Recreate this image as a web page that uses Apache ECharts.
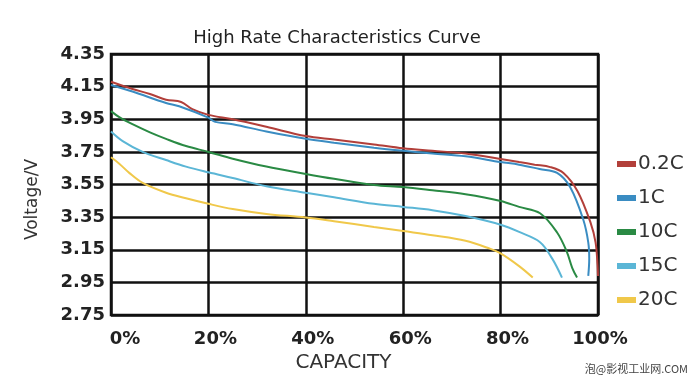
<!DOCTYPE html>
<html>
<head>
<meta charset="utf-8">
<script src="https://cdn.jsdelivr.net/npm/echarts@6/dist/echarts.min.js"></script>
<style>html,body{margin:0;padding:0;background:#fff;}#c{width:690px;height:378px;}</style>
</head>
<body>
<div id="c"></div>
<script>
// Data: [capacity %, voltage V]
const seriesNames = ['0.2C', '1C', '10C', '15C', '20C'];
const capTicks = [0, 20, 40, 60, 80, 100];
const voltTicks = [2.75, 2.95, 3.15, 3.35, 3.55, 3.75, 3.95, 4.15, 4.35];

const rate02C = [[0,4.18],[4.4,4.136],[8,4.105],[11.3,4.07],[14.4,4.056],[16.7,4.012],[20,3.977],[25,3.95],[31.9,3.904],[40,3.847],[45.8,3.826],[54,3.796],[60,3.772],[66,3.757],[72.8,3.74],[80,3.707],[83.8,3.688],[87,3.672],[90.2,3.657],[92.9,3.621],[95.8,3.509],[98.5,3.314],[99.5,3.196],[99.9,3.06],[100,2.99]];
const rate1C = [[0,4.16],[4.4,4.12],[11.3,4.05],[14,4.03],[20,3.96],[21.4,3.934],[25,3.92],[31.9,3.875],[40,3.83],[45.8,3.806],[54,3.776],[60,3.757],[66,3.74],[72.8,3.723],[80,3.688],[83.8,3.672],[88,3.645],[91.6,3.621],[94.3,3.533],[97,3.333],[98,3.196],[98.2,3.096],[98,2.99]];
const rate10C = [[0,4.00],[1.7,3.963],[4.4,3.92],[8,3.87],[11.3,3.83],[15.4,3.786],[20,3.75],[25,3.708],[31.9,3.66],[40,3.615],[45.8,3.585],[54,3.547],[60,3.535],[66,3.515],[72.8,3.49],[80,3.449],[83.8,3.413],[88.1,3.374],[91.6,3.256],[93.6,3.138],[94.7,3.04],[95.7,2.98]];
const rate15C = [[0,3.875],[2.4,3.816],[6.5,3.75],[11.3,3.70],[15.4,3.66],[20,3.625],[25,3.59],[31.9,3.54],[40,3.50],[45.8,3.472],[54,3.432],[60,3.413],[66,3.393],[72.8,3.357],[80,3.304],[83.8,3.26],[88.1,3.197],[90.6,3.096],[92.6,2.98]];
const rate20C = [[0,3.717],[1.7,3.678],[3.8,3.62],[6.5,3.56],[11.3,3.50],[15.4,3.466],[20,3.432],[25,3.40],[31.9,3.37],[40,3.348],[45.8,3.325],[54,3.29],[60,3.265],[66,3.24],[72.8,3.206],[77.8,3.157],[80,3.128],[83.8,3.05],[86.6,2.98]];

const colors = ['#b23f3a', '#3a8cc2', '#2a8a44', '#5bb6d6', '#f0c84a'];
const allData = [rate02C, rate1C, rate10C, rate15C, rate20C];

// y axis offset so ticks start at 0 (a multiple of the interval)
const vMin = voltTicks[0];
const vMax = voltTicks[voltTicks.length - 1];
const vStep = 0.2;

const chart = echarts.init(document.getElementById('c'));
const font = '"DejaVu Sans", "Liberation Sans", Arial, sans-serif';

chart.setOption({
  backgroundColor: '#fff',
  animation: false,
  title: {
    text: 'High Rate Characteristics Curve',
    left: 332, top: 24, textAlign: 'center',
    textStyle: { fontFamily: font, fontSize: 18, fontWeight: 'normal', color: '#222' }
  },
  legend: {
    orient: 'vertical', left: 612, top: 149,
    itemWidth: 19, itemHeight: 6, itemGap: 14,
    icon: 'rect',
    data: seriesNames,
    textStyle: { fontFamily: font, fontSize: 20, color: '#333', padding: [0, 0, 0, -3] }
  },
  grid: {
    left: 111, right: 92, top: 54, bottom: 53,
    show: true, borderColor: '#111', borderWidth: 2.5
  },
  xAxis: {
    type: 'value', min: 0, max: 100, interval: 20,
    name: 'CAPACITY', nameLocation: 'middle', nameGap: 37,
    nameTextStyle: { fontFamily: font, fontSize: 20, color: '#333', padding: [0, 22, 0, 0] },
    axisLine: { show: false },
    axisTick: { show: false },
    splitLine: { show: true, lineStyle: { color: '#111', width: 2.5 } },
    axisLabel: {
      margin: 15,
      formatter: function (v) {
        if (v === 0) return '{a|0%}';
        if (v === 100) return '{c|100%}';
        return '{b|' + v + '%}';
      },
      rich: {
        a: { fontFamily: font, fontSize: 18, fontWeight: 'bold', color: '#222', padding: [0, 0, 0, 28] },
        b: { fontFamily: font, fontSize: 18, fontWeight: 'bold', color: '#222', padding: [0, 0, 0, 14] },
        c: { fontFamily: font, fontSize: 18, fontWeight: 'bold', color: '#222', padding: [0, 0, 0, 4] }
      }
    }
  },
  yAxis: {
    type: 'value', min: 0, max: +(vMax - vMin).toFixed(2), interval: vStep,
    name: 'Voltage/V', nameLocation: 'middle', nameGap: 70, nameRotate: 90,
    nameTextStyle: { fontFamily: font, fontSize: 17, color: '#333', padding: [0, 30, 0, 0] },
    axisLine: { show: false },
    axisTick: { show: false },
    splitLine: { show: true, lineStyle: { color: '#111', width: 2.5 } },
    axisLabel: {
      margin: 6,
      fontFamily: font, fontSize: 18, fontWeight: 'bold', color: '#222',
      formatter: function (v) { return (v + vMin).toFixed(2); }
    }
  },
  series: seriesNames.map(function (name, i) {
    return {
      name: name, type: 'line', smooth: 0.35, showSymbol: false,
      color: colors[i],
      lineStyle: { width: 2, color: colors[i] },
      data: allData[i].map(function (p) { return [p[0], +(p[1] - vMin).toFixed(4)]; })
    };
  }),
  graphic: [{
    type: 'text', right: 2, bottom: 4,
    style: { text: '泡@影视工业网.COM', font: '11px "Noto Sans CJK SC", sans-serif', fill: '#444' }
  }]
});
</script>
</body>
</html>
